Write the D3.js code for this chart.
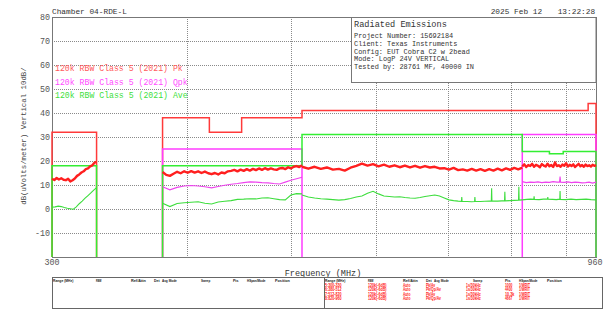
<!DOCTYPE html>
<html><head><meta charset="utf-8">
<script src="https://cdn.jsdelivr.net/npm/d3@7"></script>
<style>
body{margin:0;background:#fff;}
svg{display:block;}
text{font-family:"Liberation Mono","DejaVu Sans Mono",monospace;}
.tbl{font-family:"Liberation Sans",Arial,sans-serif;}
</style>
</head><body>
<svg id="c" width="615" height="320"></svg>
<script>
// ---------- data ----------
const yTicks = [80, 70, 60, 50, 40, 30, 20, 10, 0, -10];
const xGridFreqs = [400, 500, 600, 700, 800, 900];
const xTickLabels = [300, 960];

// limit lines: [startMHz, stopMHz, level dBuV/m]
const pkLimit  = [[300,330,32],[380,420,38],[420,450,32],[450,512,38],[512,944,41],[944,960,44]];
const qpkLimit = [[380,512,25],[820,960,31]];
const aveLimit = [[300,330,18],[380,512,18],[512,820,31],[820,869,24],[869,895,23],[895,960,24]];

// measurement ranges [start, stop]
const ranges = [[300,330],[380,512],[512,820],[820,960]];

// peak trace values, evenly spaced across each range
const pkR5 = [12.6,12.1,12.9,12.3,12.8,12.2,12.0,12.6,11.5,12.0,12.7,13.8,14.4,15.2,15.7,16.6,16.9,17.8,18.2,19.3,19.6];
const pkR6 = [15.4,14.2,13.8,14.7,15.5,14.9,15.7,15.1,15.8,15.2,15.7,15.0,15.6,14.9,14.5,15.0,14.4,15.2,14.9,15.7,15.9,16.3,15.7,16.4,15.9,16.6,16.0,16.7,16.2,16.9,16.3,17.0,16.4,16.9,16.5,16.3,16.9,17.1,16.6,17.4,16.9,17.6,17.9,17.5,18.2];
const pkR7 = [17.6,16.8,17.6,16.7,17.3,16.4,16.7,16.0,17.2,18.0,18.9,18.1,18.7,17.8,18.5,17.6,18.2,17.4,18.1,17.3,18.0,17.2,17.9,17.3,17.6,16.9,17.0,16.4,17.1,16.2,16.5,16.0,16.7,16.0,16.6,15.9,16.6,16.0,16.8,16.1,16.9,16.3,17.1,16.5,17.2];
const pkR8 = [17.8,18.6,17.5,18.3,17.9,18.8,17.6,18.4,18.0,17.4,18.7,18.1,17.7,18.9,17.8,18.3,17.5,19.4,17.9,18.2,17.6,18.5,18.0,19.1,17.7,18.4,17.9,18.6,17.5,18.2,18.8,17.8,18.3,17.6,18.5,17.9,18.2,17.7,18.4,18.0,18.3];

// quasi-peak trace [MHz, dB]
const qpkR6 = [[380,9.3],[386,8.0],[392,9.0],[398,9.6],[404,9.8],[410,9.6],[416,9.3],[422,8.8],[428,9.4],[434,9.9],[440,10.3],[446,10.6],[452,11.0],[458,11.3],[464,11.2],[470,11.0],[476,10.9],[482,10.6],[488,10.4],[494,11.2],[500,12.0],[506,12.6],[512,13.2]];
const qpkR8 = [[820,11.4],[827,11.0],[834,11.2],[841,11.1],[848,11.3],[855,11.0],[862,11.2],[869,11.1],[876,11.4],[883,11.2],[888,11.2],[889,13.5],[890,11.2],[897,11.1],[904,11.3],[911,11.0],[918,11.2],[925,11.1],[932,10.9],[939,11.0],[946,11.2],[953,10.8],[960,11.2]];

// average trace [MHz, dB]
const aveR5 = [[300,0.7],[302,0.9],[304,1.2],[306,1.0],[308,0.6],[310,0.3],[312,0.1],[314,-0.1],[316,0.9],[318,2.2],[320,3.3],[322,4.5],[324,5.6],[326,6.7],[328,7.9],[330,8.9]];
const aveR6 = [[380,2.4],[386,1.0],[392,2.3],[398,2.6],[404,2.8],[410,3.0],[416,2.4],[422,2.1],[428,2.9],[434,3.2],[440,3.5],[446,4.0],[452,4.1],[458,4.3],[464,4.2],[470,4.6],[476,4.7],[482,4.3],[488,3.9],[494,3.8],[500,5.8],[506,6.4],[512,6.3]];
const aveR7 = [[512,5.8],[519,5.0],[526,4.6],[533,4.3],[540,4.1],[547,3.9],[554,3.7],[561,3.9],[568,4.4],[575,5.0],[582,5.4],[589,6.6],[596,7.4],[603,6.3],[610,5.4],[617,5.2],[624,5.0],[631,5.1],[638,4.8],[645,4.6],[652,4.5],[659,4.8],[666,5.2],[673,5.5],[680,5.8],[687,5.4],[694,4.6],[701,3.8],[708,3.5],[715,3.3],[720,3.2],[720.5,5.0],[721,3.2],[729,3.1],[736,3.0],[740.5,3.1],[741,5.0],[741.5,3.1],[750,3.1],[757,3.2],[764,3.3],[767.5,3.3],[768,8.6],[768.5,3.3],[778,3.3],[785,3.4],[789.5,3.4],[790,7.2],[790.5,3.4],[799,3.5],[806,3.6],[813.5,3.7],[814,9.3],[814.5,3.7],[820,3.8]];
const aveR8 = [[820,3.8],[828,4.0],[835,4.1],[840.5,4.0],[841,5.3],[841.5,4.0],[850,3.9],[858,4.1],[865.5,4.1],[866,5.0],[866.5,4.1],[875,4.0],[882,3.9],[888.5,4.1],[889,7.5],[889.5,4.0],[900,3.9],[910,4.1],[920,3.9],[930,4.0],[940,4.1],[950,3.9],[960,3.8]];

const legendLabels = ["120k RBW Class 5 (2021) Pk","120k RBW Class 5 (2021) Qpk","120k RBW Class 5 (2021) Ave"];
const infoTitle = "Radiated Emissions";
const infoLines = ["Project Number: 15692184","Client: Texas Instruments","Config: EUT Cobra C2 w 2bead","Mode: LogP 24V VERTICAL","Tested by: 28761 MF, 40000 IN"];
const chamberLabel = "Chamber 04-RDE-L";
const dateLabel = "2025 Feb 12";
const timeLabel = "13:22:28";
const yAxisTitle = "dB(uVolts/meter) Vertical 10dB/";
const xAxisTitle = "Frequency (MHz)";

const tableHeader = ["Range (MHz)","RBW","Ref/Attn","Det","Avg Mode","Sweep","Pts","HSpan/Mode","Position"];
const tableRows = [
  ["5:300-330","120k(-6dB)","Auto","Pk/Av","","1s/30kHz","1000","1/WRIT",""],
  ["6:380-512","120k(-6dB)","Auto","Pk/Qp/Av","","1s/30kHz","4400","1/WRIT",""],
  ["7:512-820","120k(-6dB)","Auto","Pk/Av","","1s/30kHz","10.3k","1/WRIT",""],
  ["8:820-960","120k(-6dB)","Auto","Pk/Qp/Av","","1s/30kHz","4667","1/WRIT",""]
];

// ---------- drawing ----------
const svg = d3.select("#c");
const L = 52, R = 596, T = 17, B = 257;
const x = d3.scaleLog().domain([300, 960]).range([L, R]);
const y = d3.scaleLinear().domain([-20, 80]).range([B, T]);

const COL = {pk:"#ff1f1f", qpk:"#ee44ee", ave:"#3ddd3d",
             pkLim:"#ff3a3a", qpkLim:"#ff3cff", aveLim:"#33ee33",
             pkTxt:"#ff5a5a", qpkTxt:"#ff4cff", aveTxt:"#3ee03e"};

// grid
const g = svg.append("g");
g.selectAll("line.h").data(yTicks.filter(v => v < 80)).join("line")
  .attr("x1", L).attr("x2", R).attr("y1", d => y(d)).attr("y2", d => y(d))
  .attr("stroke", "#8a8a8a").attr("stroke-width", 1).attr("stroke-dasharray", "1,1")
  .attr("shape-rendering", "crispEdges");
g.selectAll("line.v").data(xGridFreqs).join("line")
  .attr("x1", d => Math.round(x(d)) + 0.5).attr("x2", d => Math.round(x(d)) + 0.5)
  .attr("y1", T).attr("y2", B)
  .attr("stroke", "#8a8a8a").attr("stroke-width", 1).attr("stroke-dasharray", "1,1")
  .attr("shape-rendering", "crispEdges");

// info box
svg.append("rect").attr("x", 351.5).attr("y", T + 0.5).attr("width", R - 351.5).attr("height", 65)
  .attr("fill", "#fff").attr("stroke", "#777").attr("stroke-width", 1);
svg.append("text").attr("x", 354).attr("y", 27.3).attr("font-size", 8.6).attr("fill", "#333").text(infoTitle);
svg.selectAll("text.info").data(infoLines).join("text")
  .attr("x", 354).attr("y", (d, i) => 38 + i * 7.8).attr("font-size", 6.9).attr("fill", "#333").text(d => d);

// plot border
svg.append("rect").attr("x", L + 0.5).attr("y", T + 0.5).attr("width", R - L).attr("height", B - T)
  .attr("fill", "none").attr("stroke", "#777").attr("stroke-width", 1);

// legend text
const legCols = [COL.pkTxt, COL.qpkTxt, COL.aveTxt];
const legY = [70.5, 85, 97.5];
svg.selectAll("text.leg").data(legendLabels).join("text")
  .attr("x", 55).attr("y", (d, i) => legY[i]).attr("font-size", 8.2)
  .attr("fill", (d, i) => legCols[i]).text(d => d);

// limits: group contiguous segments into closed step paths
function limitPath(segs) {
  const groups = [];
  segs.forEach(s => {
    const last = groups[groups.length - 1];
    if (last && last[last.length - 1][1] === s[0]) last.push(s); else groups.push([s]);
  });
  return groups.map(gr => {
    let p = `M${x(gr[0][0])},${y(-20)}`;
    gr.forEach(s => { p += `L${x(s[0])},${y(s[2])}L${x(s[1])},${y(s[2])}`; });
    p += `L${x(gr[gr.length - 1][1])},${y(-20)}`;
    return p;
  });
}
[[pkLimit, COL.pkLim], [qpkLimit, COL.qpkLim], [aveLimit, COL.aveLim]].forEach(([segs, c]) => {
  svg.append("g").selectAll("path").data(limitPath(segs)).join("path")
    .attr("d", d => d).attr("fill", "none").attr("stroke", c).attr("stroke-width", 1.5);
});

// traces
const line = d3.line().x(d => x(d[0])).y(d => y(d[1]));
function evenly(rng, vals) {
  const n = vals.length - 1;
  return vals.map((v, i) => [rng[0] + (rng[1] - rng[0]) * i / n, v]);
}
[aveR5, aveR6, aveR7, aveR8].forEach(d => {
  svg.append("path").attr("d", line(d)).attr("fill", "none").attr("stroke", COL.ave).attr("stroke-width", 1.1);
});
[qpkR6, qpkR8].forEach(d => {
  svg.append("path").attr("d", line(d)).attr("fill", "none").attr("stroke", COL.qpk).attr("stroke-width", 1.1);
});
[pkR5, pkR6, pkR7, pkR8].forEach((vals, i) => {
  svg.append("path").attr("d", line(evenly(ranges[i], vals))).attr("fill", "none")
    .attr("stroke", COL.pk).attr("stroke-width", 2.4).attr("stroke-linejoin", "round");
});

// y tick labels
svg.selectAll("text.yt").data(yTicks).join("text")
  .attr("x", 50).attr("y", d => y(d) + 3).attr("text-anchor", "end")
  .attr("font-size", 8.4).attr("fill", "#555").text(d => d);
// x tick labels
svg.selectAll("text.xt").data(xTickLabels).join("text")
  .attr("x", d => x(d) - (d === 960 ? 1 : 0)).attr("y", 264.5).attr("text-anchor", "middle")
  .attr("font-size", 8.4).attr("fill", "#555").text(d => d);

// axis titles
svg.append("text").attr("transform", "translate(25.5,136) rotate(-90)").attr("text-anchor", "middle")
  .attr("font-size", 7.4).attr("fill", "#444").text(yAxisTitle);
svg.append("text").attr("x", 323).attr("y", 275.5).attr("text-anchor", "middle")
  .attr("font-size", 8.5).attr("fill", "#333").text(xAxisTitle);

// header texts
svg.append("text").attr("x", 52).attr("y", 14.3).attr("font-size", 7.8).attr("fill", "#333").text(chamberLabel);
svg.append("text").attr("x", 490.7).attr("y", 14).attr("font-size", 7.8).attr("fill", "#333").text(dateLabel);
svg.append("text").attr("x", 557.7).attr("y", 14).attr("font-size", 7.8).attr("fill", "#333").text(timeLabel);

// bottom table
const tb = svg.append("g");
tb.append("rect").attr("x", 52.5).attr("y", 277.5).attr("width", 550).attr("height", 31)
  .attr("fill", "none").attr("stroke", "#666");
tb.append("line").attr("x1", 324.5).attr("x2", 324.5).attr("y1", 277.5).attr("y2", 308.5).attr("stroke", "#666");
const colOff = [1, 44, 79, 102, 110, 149, 181, 195, 223];
const rowOff = [1, 44, 79, 102, 110, 142, 181, 195, 223];
const charW = 1.85;
[52, 324].forEach(base => {
  tb.selectAll(null).data(tableHeader).join("text").attr("class", "tbl")
    .attr("x", (d, i) => base + colOff[i]).attr("y", 282)
    .attr("font-size", 4.2).attr("font-weight", "bold").attr("fill", "#222")
    .attr("textLength", d => d.length * charW).attr("lengthAdjust", "spacingAndGlyphs")
    .text(d => d);
});
tableRows.forEach((row, r) => {
  const cells = row.map((t, i) => [t, i]).filter(c => c[0] !== "");
  tb.selectAll(null).data(cells).join("text").attr("class", "tbl")
    .attr("x", d => 324 + rowOff[d[1]]).attr("y", 286.6 + r * 4.6)
    .attr("font-size", 4.6).attr("font-weight", "bold").attr("fill", "#ff2020")
    .attr("textLength", d => d[0].length * charW).attr("lengthAdjust", "spacingAndGlyphs")
    .text(d => d[0]);
});
</script>
</body></html>
